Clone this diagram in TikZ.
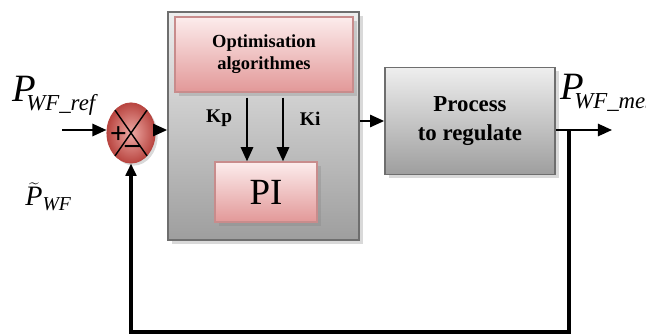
\documentclass[tikz,border=0pt]{standalone}
\usepackage{fontspec}
\setmainfont{Liberation Serif}
\usetikzlibrary{arrows.meta,shadows,shapes.geometric}

\definecolor{sumin}{RGB}{238,170,165}
\definecolor{sumout}{RGB}{185,70,65}
\definecolor{pinktop}{RGB}{252,236,236}
\definecolor{pinkbot}{RGB}{226,152,152}
\definecolor{pinkline}{RGB}{200,140,140}
\definecolor{greytop}{RGB}{238,238,238}
\definecolor{greybot}{RGB}{158,158,158}
\definecolor{greyline}{RGB}{110,110,110}

\newcommand{\sigP}[1]{{\fontsize{22}{24}\selectfont\itshape P}\kern-5.5pt\raisebox{-5pt}{\fontsize{13}{13}\selectfont\itshape #1}}

\begin{document}
\begin{tikzpicture}[
    tip/.style={line width=1.1pt,-{Triangle[length=8pt,width=7pt]}},
    fbline/.style={line width=2.3pt,-{Triangle[length=7pt,width=6pt]}},
    bigbox/.style={draw=greyline,line width=1pt,top color=greytop,bottom color=greybot,
      drop shadow={opacity=0.3,shadow xshift=2pt,shadow yshift=-2pt}},
    pinkbox/.style={draw=pinkline,line width=0.8pt,top color=pinktop,bottom color=pinkbot,
      drop shadow={opacity=0.3,shadow xshift=2pt,shadow yshift=-2pt}}
  ]
  \useasboundingbox (0,0) rectangle (12.92,6.72);

  \begin{scope}[every node/.style={inner sep=0pt}]
    \node[bigbox,minimum width=3.82cm,minimum height=4.56cm] (ctrl) at (5.27,4.2) {};
    \node[pinkbox,minimum width=3.56cm,minimum height=1.5cm,align=center,
      font=\bfseries\fontsize{10.5}{12.5}\selectfont] (opt) at (5.28,5.63) {Optimisation\\algorithmes};
    \node[pinkbox,minimum width=2.04cm,minimum height=1.2cm,
      font=\fontsize{21}{24}\selectfont] (pi) at (5.32,2.88) {PI};
    \node[bigbox,minimum width=3.4cm,minimum height=2.14cm,align=center,
      font=\bfseries\fontsize{13}{17}\selectfont] (proc) at (9.4,4.3) {Process\\to regulate};
    \node[ellipse,draw=sumout,line width=0.6pt,inner color=sumin,outer color=sumout,
      minimum width=0.96cm,minimum height=1.2cm,
      drop shadow={opacity=0.3,shadow xshift=1.5pt,shadow yshift=-1.5pt}] (sum) at (2.62,4.06) {};
  \end{scope}

  % signs of the summing point
  \draw[line width=0.8pt] (sum.125) -- (sum.305);
  \draw[line width=0.8pt] (sum.55) -- (sum.235);
  \node[font=\bfseries\fontsize{17}{17}\selectfont,inner sep=0pt] (plus) at ([shift={(-0.25,-0.04)}]sum.center) {+};
  \node[font=\bfseries\fontsize{17}{17}\selectfont,inner sep=0pt] (minus) at ([shift={(0.03,-0.32)}]sum.center) {--};

  % signals
  \node[anchor=base west,inner sep=0pt] (pref) at (0.24,4.68) {\sigP{WF\_ref}};
  \node[anchor=base west,inner sep=0pt,font=\fontsize{16}{18}\selectfont] (ptilde) at (0.5,2.6)
    {$\widetilde{\mathit{P}}_{\mathit{WF}}$};
  \node[anchor=base west,inner sep=0pt] (pmes) at (11.2,4.72) {\sigP{WF\_mes}};

  \coordinate (in) at (1.24,4.12);
  \coordinate (out) at (12.24,4.12);
  \coordinate (br) at (11.38,4.12);
  \coordinate (bot) at (11.38,0.08);

  \begin{scope}[every node/.style={font=\bfseries\fontsize{11}{13}\selectfont,inner sep=0pt}]
    \path (in) edge[tip] (in -| sum.west);
    \path (sum.east |- in) edge[tip] (in -| ctrl.west);
    \path ([xshift=-3.4mm,yshift=-1mm]opt.south) edge[tip] node[pos=0.33,left=2.8mm] {Kp}
      ([xshift=-3.4mm]opt.south |- pi.north);
    \path ([xshift=3.8mm,yshift=-1mm]opt.south) edge[tip] node[pos=0.33,right=3.2mm] {Ki}
      ([xshift=3.8mm]opt.south |- pi.north);
    \path (ctrl.east |- proc.west) edge[tip] (proc.west);
    \path (in -| proc.east) edge[tip] (out);
  \end{scope}

  \draw[fbline] (br) -- (bot) -| (sum.south);

\end{tikzpicture}
\end{document}
